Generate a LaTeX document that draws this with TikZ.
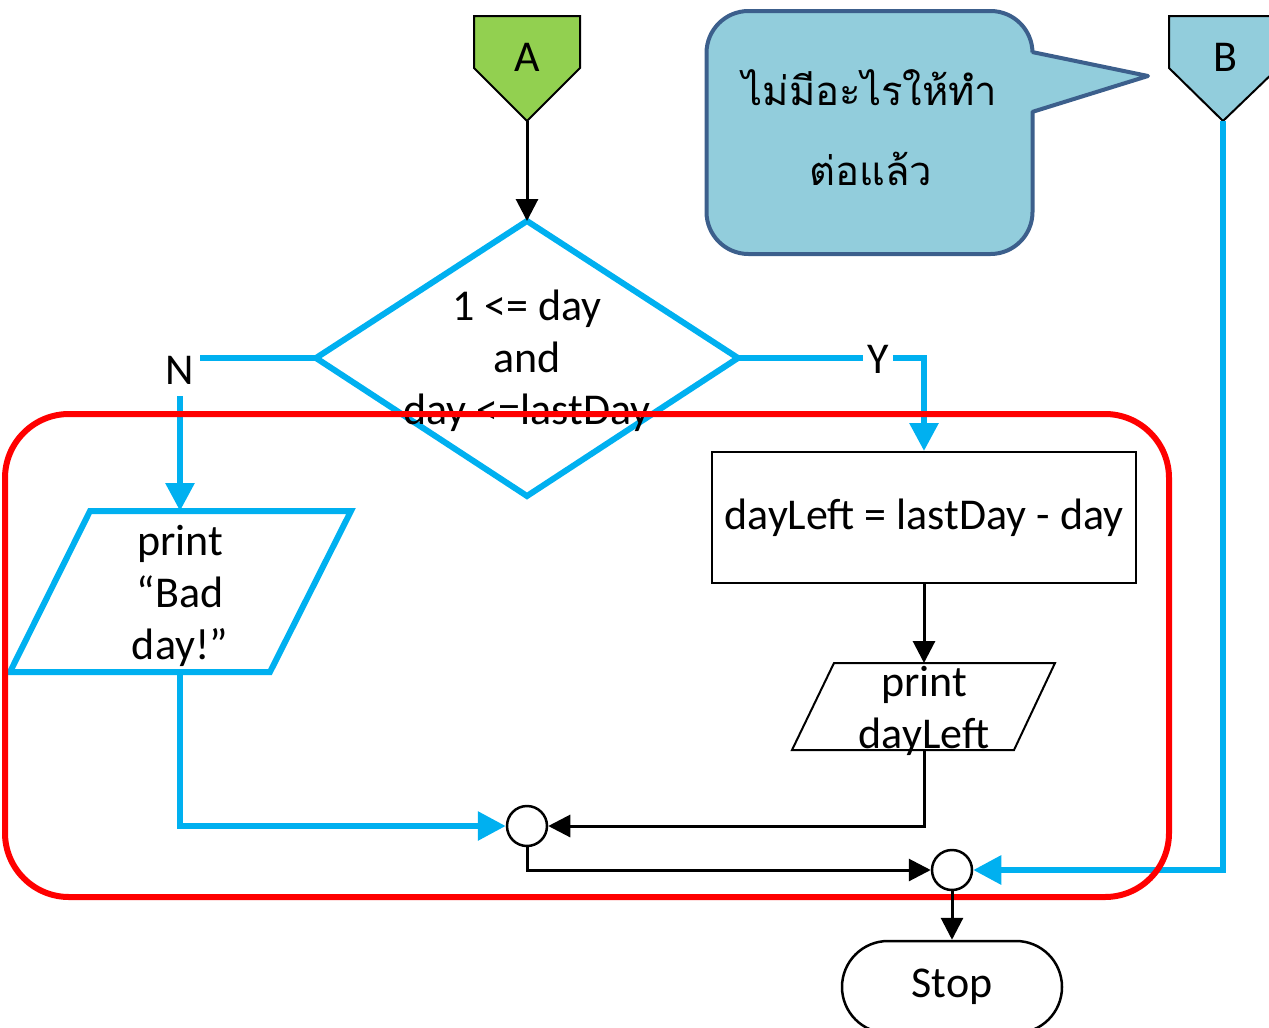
\documentclass[tikz,border=0pt]{standalone}
\usepackage{fontspec}
\setmainfont{Carlito}
\newfontfamily\thaifont[Script=Thai]{Loma}
\usetikzlibrary{arrows.meta,shapes.misc}
\definecolor{flowblue}{HTML}{00B0F0}
\definecolor{termgreen}{HTML}{92D050}
\definecolor{paleblue}{HTML}{92CDDC}
\definecolor{calloutedge}{HTML}{3C5F8C}
\definecolor{framered}{HTML}{FF0000}

\begin{document}
\begin{tikzpicture}[x=1pt,y=-1pt,
  txt/.style={font=\fontsize{44}{52}\selectfont, align=center, inner sep=0pt},
  thai/.style={font=\thaifont\fontsize{40}{48}\selectfont, inner sep=0pt, anchor=base},
  thinbox/.style={draw=black, line width=2pt},
  flow/.style={draw=black, line width=3pt, -{Triangle[length=22pt,width=22pt]}},
  bflow/.style={draw=flowblue, color=flowblue, line width=6pt, -{Triangle[length=28pt,width=28pt]}},
  bline/.style={draw=flowblue, line width=6pt},
  mergept/.style={circle, draw=black, line width=2.5pt, fill=white, minimum size=40pt, inner sep=0pt}]

\useasboundingbox (0,0) rectangle (1269,1028);

% ---- off-page connector A
\coordinate (Apt) at (527,121);
\filldraw[fill=termgreen, draw=black, line width=2pt, line join=miter]
  (474,16) -- (580,16) -- (580,68) -- (Apt) -- (474,68) -- cycle;
\node[txt] (Alab) at (527,57) {A};

% ---- off-page connector B
\coordinate (Bpt) at (1223,121);
\filldraw[fill=paleblue, draw=black, line width=2pt, line join=miter]
  (1169,16) -- (1278,16) -- (1278,68) -- (Bpt) -- (1169,68) -- cycle;
\node[txt] (Blab) at (1225,57) {B};

% ---- callout
\node[draw=calloutedge, fill=paleblue, line width=4pt, rounded corners=42pt,
      minimum width=326pt, minimum height=243pt, inner sep=0pt] (note) at (869.5,132.5) {};
\fill[paleblue] (1028,52) -- (1148,76) -- (1028,112) -- cycle;
\draw[calloutedge, line width=4pt, line join=round] (1032,52) -- (1148,76) -- (1032,112);
\node[thai] (noteA) at (870,105) {ไม่มีอะไรให้ทำ};
\node[thai] (noteB) at (871,185) {ต่อแล้ว};

% ---- decision
\coordinate (dT) at (527,221);
\coordinate (dR) at (738,358);
\coordinate (dB) at (527,496);
\coordinate (dL) at (316,358);
\draw[bline, line join=miter] (dT) -- (dR) -- (dB) -- (dL) -- cycle;
\node[txt] (cond) at (527,361) {1 <= day\\and\\day <=lastDay};
\draw[flow] (Apt) -- (dT);

% ---- N branch: output "Bad day!"
\coordinate (p1TL) at (90,511);
\coordinate (p1TR) at (351,511);
\coordinate (p1BR) at (270,672);
\coordinate (p1BL) at (10,672);
\coordinate (p1top) at (180,511);
\coordinate (p1bot) at (180,672);
\draw[bline, line join=miter] (p1TL) -- (p1TR) -- (p1BR) -- (p1BL) -- cycle;
\node[txt] (badtxt) at (180,596) {print\\“Bad\\day!”};
\node[txt, inner sep=6pt] (Nlab) at (180,370) {N};
\draw[bline] (dL) -- (Nlab.east |- dL);
\draw[bflow] (180,396) -- (p1top);

% ---- Y branch: compute and print
\node[thinbox, txt, minimum width=424pt, minimum height=131pt] (calc) at (924,517.5) {dayLeft = lastDay - day};
\node[txt, inner sep=4pt] (Ylab) at (878,359) {Y};
\draw[bline] (dR) -- (Ylab.west |- dR);
\draw[bflow] (Ylab.east |- dR) -| (calc.north);

\coordinate (p2TL) at (834,663);
\coordinate (p2TR) at (1055,663);
\coordinate (p2BR) at (1014,750);
\coordinate (p2BL) at (792,750);
\coordinate (p2top) at (924,663);
\coordinate (p2bot) at (924,750);
\draw[thinbox, line join=miter] (p2TL) -- (p2TR) -- (p2BR) -- (p2BL) -- cycle;
\node[txt] (outtxt) at (924,711) {print\\dayLeft};
\draw[flow] (calc.south) -- (p2top);

% ---- merge points and end
\node[mergept] (m1) at (527,826) {};
\node[mergept] (m2) at (952,870) {};
\node[draw=black, line width=2.5pt, rounded rectangle, minimum width=220pt,
      minimum height=92pt, txt] (stop) at (952,987) {Stop};

\draw[bflow] (p1bot) |- (m1.west);
\draw[flow] (p2bot) |- (m1.east);
\draw[flow] (m1.south) |- (m2.west);
\draw[bflow] (Bpt) |- (m2.east);

% ---- highlight frame
\draw[framered, line width=6pt, rounded corners=64pt] (5,414) rectangle (1169,897);
\draw[flow] (m2.south) -- (stop.north);

\end{tikzpicture}
\end{document}
